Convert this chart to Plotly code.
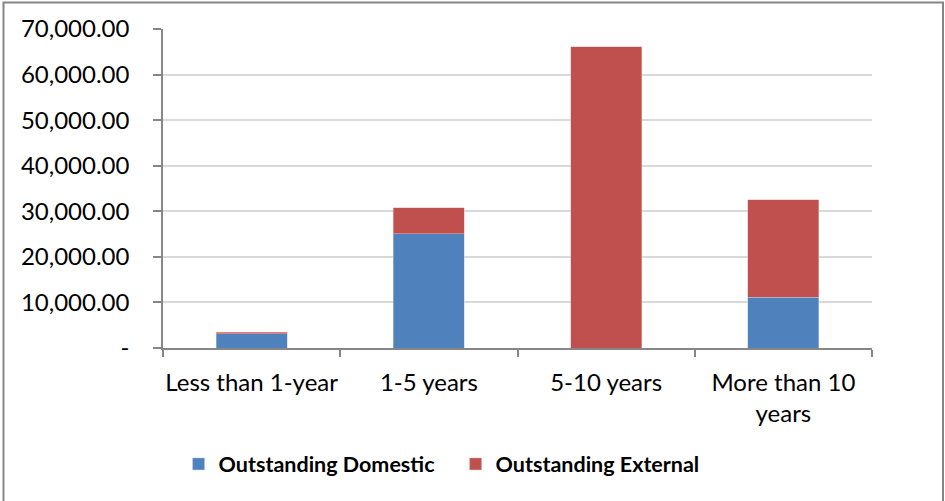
import plotly.graph_objects as go

categories = ["Less than 1-year", "1-5 years", "5-10 years", "More than 10<br>years"]
domestic = [3150, 25100, 0, 11100]
external = [350, 5700, 66100, 21400]
tick_vals = [0, 10000, 20000, 30000, 40000, 50000, 60000, 70000]
tick_text = ["-", "10,000.00", "20,000.00", "30,000.00", "40,000.00",
             "50,000.00", "60,000.00", "70,000.00"]

FONT = "Lato, sans-serif"

fig = go.Figure()
fig.add_trace(go.Bar(name="Outstanding Domestic", x=categories, y=domestic,
                     marker=dict(color="#4F81BD", line=dict(color="#b9cde5", width=0.5))))
fig.add_trace(go.Bar(name="Outstanding External", x=categories, y=external,
                     marker=dict(color="#C0504D", line=dict(color="#e6b9b8", width=0.5))))

L, R, T, B = 163, 73, 29, 153
W, H = 945, 501
pw, ph = W - L - R, H - T - B

fig.update_layout(
    barmode="stack",
    bargap=0.6,
    width=W, height=H,
    margin=dict(l=L, r=R, t=T, b=B, pad=0, autoexpand=False),
    paper_bgcolor="white",
    plot_bgcolor="white",
    font=dict(family=FONT, size=24, color="black"),
    showlegend=True,
    legend=dict(orientation="h", xref="container", x=0.189, xanchor="left",
                yref="container", y=0.074, yanchor="middle",
                font=dict(family=FONT, size=21.5, color="black", weight="bold"),
                traceorder="normal", itemwidth=30, entrywidth=232,
                bgcolor="rgba(0,0,0,0)"),
    xaxis=dict(showline=True, linecolor="#868686", linewidth=1.5,
               ticks="outside", ticklen=7, tickcolor="#868686", tickwidth=1.5,
               tickson="boundaries", showgrid=False, ticklabelstandoff=12,
               tickangle=0, automargin=False,
               tickfont=dict(family=FONT, size=24, color="black")),
    yaxis=dict(range=[0, 70000], tickvals=tick_vals, ticktext=tick_text,
               showline=True, linecolor="#868686", linewidth=1.5,
               ticks="outside", ticklen=8, tickcolor="#868686", tickwidth=1.5,
               showgrid=True, gridcolor="#d9d9d9", gridwidth=1.5,
               zeroline=False, ticklabelstandoff=19, automargin=False,
               tickfont=dict(family=FONT, size=24, color="black")),
    shapes=[dict(type="rect", xref="paper", yref="paper",
                 x0=(3.5 - L) / pw, x1=(943 - L) / pw,
                 y0=(T + ph - 520) / ph,
                 y1=(T + ph - 2.5) / ph,
                 line=dict(color="#868686", width=2), layer="below")],
)

fig.write_html("out.html")
